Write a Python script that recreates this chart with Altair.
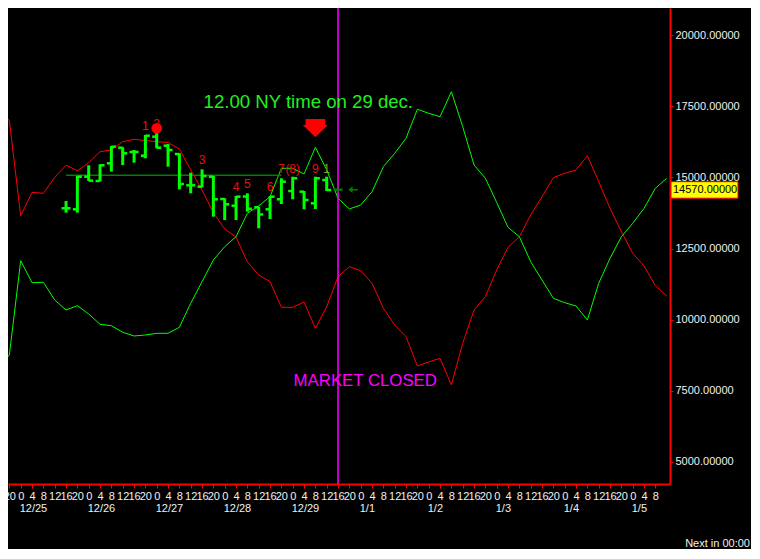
import altair as alt
import pandas as pd

# ---------------- data ----------------
# x = trading hours since 12/25 00:00 (weekend 12/30-12/31 skipped)
line_t = list(range(-8, 229, 4))
red_line = [17510, 16990, 13655, 14478, 14443, 15006, 15428, 15238, 15520, 15906,
            15966, 16258, 16342, 16300, 16258, 16230, 16001, 15263, 14559, 13761,
            13188, 12906, 12027, 11570, 11334, 10434, 10434, 10620, 9695, 10455,
            11510, 11862, 11721, 11278, 10399, 9811, 9400, 8369, 8510, 8640,
            7701, 9168, 10339, 10807, 11746, 12544, 12917, 13680, 14324, 14992,
            15147, 15263, 15766, 14851, 13916, 13093, 12333, 11886, 11194, 10831]
green_line = [8264, 8756, 12073, 11299, 11313, 10691, 10339, 10490, 10198, 9836,
              9787, 9555, 9424, 9460, 9519, 9519, 9730, 10574, 11334, 12098,
              12565, 12917, 13740, 13997, 14324, 15323, 15323, 15122, 16061, 15263,
              14267, 13891, 14032, 14500, 15379, 15850, 16378, 17398, 17257, 17137,
              18016, 16785, 15438, 14971, 14121, 13247, 12917, 12037, 11394, 10750,
              10596, 10480, 9987, 11278, 12157, 12917, 13388, 13915, 14619, 14971]

bar_t = list(range(16, 113, 4))
bar_open = [13916, 13880, 15027, 14876, 15498, 16047, 15896, 15766, 16434, 16117,
            15825, 14724, 14675, 15027, 14243, 14007, 14330, 13951, 13880, 14232,
            14524, 14500, 14091, 14911, 14570]
bar_high = [14172, 15052, 15428, 15463, 16107, 16061, 15966, 16494, 16705, 16177,
            15850, 15168, 15287, 15052, 14267, 14348, 14443, 13972, 14348, 14971,
            15027, 14524, 15027, 15027, 14570]
bar_low = [13761, 13761, 14876, 14865, 15203, 15438, 15519, 15674, 16026, 15379,
           14584, 14443, 14654, 13620, 13504, 13504, 13796, 13212, 13539, 14067,
           14232, 13880, 13891, 14524, 14570]
bar_close = [13916, 15027, 14886, 15428, 16082, 15850, 15896, 16469, 16047, 15966,
             14770, 14724, 15052, 14232, 14056, 14324, 13900, 13700, 14324, 14851,
             14971, 14207, 14971, 14559, 14570]
bar_color = ["#00ff00"] * 24 + ["#007a00"]

wave_text = ["1", "2", "3", "4", "5", "6", "7", "(8)", "9", "1"]
wave_t = [44, 48, 64, 76, 80, 88, 92, 96, 104, 108]
wave_v = [16810, 16863, 15614, 14654, 14770, 14654, 15287, 15287, 15308, 15287]
wave_color = ["#e81010"] * 9 + ["#9c9c14"]

day_t = [0, 24, 48, 72, 96, 120, 144, 168, 192, 216]
day_labels = ["12/25", "12/26", "12/27", "12/28", "12/29", "1/1", "1/2", "1/3", "1/4", "1/5"]

level_t = [16, 92]
level_v = [15076, 15076]

dot_t, dot_v = [48], [16729]
signal_t, signal_v = [104], [16733]
close_t = [112]
last_price = [14570]
note_t, note_v, note_text = [101.5], [17433], ["12.00 NY time on 29 dec."]
closed_t, closed_v, closed_text = [121.6], [7666], ["MARKET CLOSED"]
y_ticks = [5000, 7500, 10000, 12500, 15000, 17500, 20000]
x_ticks = list(range(-4, 225, 4))

# ---------------- chart ----------------
FONT = "Liberation Sans"
X_DOMAIN = [-4.482, 229.16]
Y_DOMAIN = [4219, 20960]
xs = alt.Scale(domain=X_DOMAIN, nice=False, zero=False)
ys = alt.Scale(domain=Y_DOMAIN, nice=False, zero=False)

lines = pd.DataFrame({"t": line_t, "red": red_line, "green": green_line})
bars = pd.DataFrame({"t": bar_t, "o": bar_open, "h": bar_high, "l": bar_low,
                     "c": bar_close, "col": bar_color})
waves = pd.DataFrame({"t": wave_t, "v": wave_v, "txt": wave_text, "col": wave_color})
days = pd.DataFrame({"t": day_t, "txt": day_labels})
level = pd.DataFrame({"t": level_t, "v": level_v})

x_axis = alt.Axis(values=x_ticks,
                  labelExpr="'' + (((datum.value % 24) + 24) % 24)",
                  labelOverlap=False, labelFlush=False, grid=False, title=None)
y_axis = alt.Axis(orient="right", values=y_ticks, format=".5f",
                  labelFlush=False, labelOverlap=False, grid=False, title=None)


def X(f="t"):
    return alt.X(f"{f}:Q", scale=xs, axis=x_axis, title=None)


def Y(f):
    return alt.Y(f"{f}:Q", scale=ys, axis=y_axis, title=None)


red = alt.Chart(lines).mark_line(color="#ff0000", strokeWidth=1, clip=True).encode(
    x=X(), y=Y("red"))
green = alt.Chart(lines).mark_line(color="#00ff00", strokeWidth=1, clip=True).encode(
    x=X(), y=Y("green"))
lvl = alt.Chart(level).mark_line(color="#008000", strokeWidth=1.5).encode(x=X(), y=Y("v"))
closed_rule = alt.Chart(pd.DataFrame({"t": close_t})).mark_rule(
    color="#ff00ff", strokeWidth=1.5).encode(x=X())

hl = alt.Chart(bars).mark_rule(strokeWidth=3).encode(
    x=X(), y=Y("l"), y2="h:Q", color=alt.Color("col:N", scale=None))
op = alt.Chart(bars).mark_rule(strokeWidth=2.5, xOffset=-4.5, x2Offset=0).encode(
    x=X(), x2="t:Q", y=Y("o"), color=alt.Color("col:N", scale=None))
cl = alt.Chart(bars).mark_rule(strokeWidth=2.5, xOffset=0, x2Offset=4.5).encode(
    x=X(), x2="t:Q", y=Y("c"), color=alt.Color("col:N", scale=None))

wave = alt.Chart(waves).mark_text(font=FONT, fontSize=12, baseline="middle").encode(
    x=X(), y=Y("v"), text="txt:N", color=alt.Color("col:N", scale=None))
dot = alt.Chart(pd.DataFrame({"t": dot_t, "v": dot_v})).mark_point(
    shape="circle", filled=True, size=115, color="#ff0000", opacity=1).encode(x=X(), y=Y("v"))
arrow_path = "M -0.79 -0.73 L 0.79 -0.73 L 0.79 -0.25 L 1 -0.25 L 0 0.73 L -1 -0.25 L -0.79 -0.25 Z"
signal = alt.Chart(pd.DataFrame({"t": signal_t, "v": signal_v})).mark_point(
    shape=arrow_path, filled=True, size=625, color="#ff0000", opacity=1).encode(x=X(), y=Y("v"))
left_arrow = "M -1 0 L -0.1 -0.7 L -0.1 -0.15 L 1 -0.15 L 1 0.15 L -0.1 0.15 L -0.1 0.7 Z"
cur_arrow = alt.Chart(pd.DataFrame({"t": close_t, "v": last_price})).mark_point(
    shape=left_arrow, filled=True, size=90, color="#007a00", opacity=1, xOffset=15).encode(
    x=X(), y=Y("v"))

note = alt.Chart(pd.DataFrame({"t": note_t, "v": note_v, "txt": note_text})).mark_text(
    font=FONT, fontSize=18.6, color="#22ee22", baseline="alphabetic", align="center").encode(
    x=X(), y=Y("v"), text="txt:N")
closed = alt.Chart(pd.DataFrame({"t": closed_t, "v": closed_v, "txt": closed_text})).mark_text(
    font=FONT, fontSize=16.8, color="#ff00ff", baseline="alphabetic", align="center").encode(
    x=X(), y=Y("v"), text="txt:N")

day_lbl = alt.Chart(days).mark_text(font=FONT, fontSize=11, color="#f0f0f0",
                                    align="left", baseline="middle", dx=-1).encode(
    x=X(), y=alt.value(500.5), text="txt:N")

price_df = pd.DataFrame({"v": last_price, "txt": [f"{p:.5f}" for p in last_price]})
price_box = alt.Chart(price_df).mark_rect(fill="#ffff00", stroke="#ff0000", strokeWidth=1,
                                          yOffset=-8, y2Offset=8.5).encode(
    x=alt.value(663), x2=alt.value(730), y=Y("v"), y2="v:Q")
price_txt = alt.Chart(price_df).mark_text(font=FONT, fontSize=11, color="#000000",
                                          align="left", baseline="middle").encode(
    x=alt.value(665), y=Y("v"), text="txt:N")

next_txt = alt.Chart(pd.DataFrame({"txt": ["Next in 00:00"]})).mark_text(
    font=FONT, fontSize=11, color="#f0f0f0", align="right", baseline="middle").encode(
    x=alt.value(742), y=alt.value(536), text="txt:N")

chart = alt.layer(
    red, green, lvl, closed_rule, hl, op, cl, wave, dot, signal, cur_arrow,
    note, closed, day_lbl, price_box, price_txt, next_txt
).properties(
    width=662, height=476,
    padding={"left": 0, "top": 0, "right": 81, "bottom": 65},
    autosize=alt.AutoSizeParams(type="none"),
    background="#000000",
).configure_view(stroke=None).configure_axis(
    domainColor="#ff0000", domainWidth=2, tickColor="#ff0000", tickWidth=1,
    labelColor="#f0f0f0", labelFont=FONT, labelFontSize=11, labelPadding=2,
).configure_axisX(tickSize=4).configure_axisY(tickSize=3)

chart.save("out.html", embed_options={"renderer": "svg", "actions": False})
